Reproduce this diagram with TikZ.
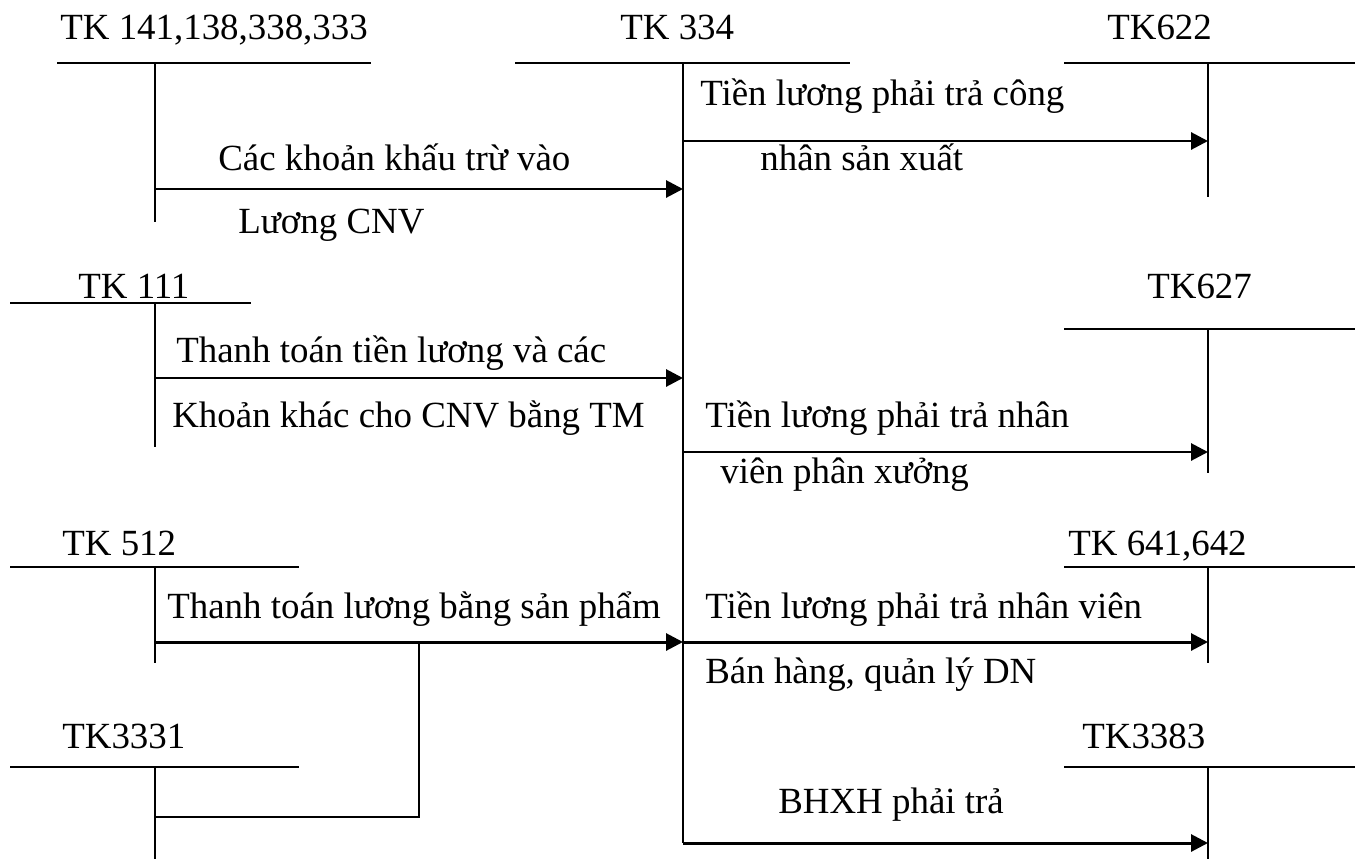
\documentclass[tikz,border=0pt]{standalone}
\usepackage{fontspec}
\setmainfont{Liberation Serif}
\usetikzlibrary{arrows.meta}

\begin{document}
\begin{tikzpicture}[x=0.02cm, y=-0.02cm, >={Triangle[length=0.34cm,width=0.34cm]},
                    acct/.style={line width=1.1pt},
                    flow/.style={->, line width=1.7pt},
                    txt/.style={inner sep=0pt, anchor=base west, font=\fontsize{21}{25}\selectfont}]
                      \useasboundingbox (0,0) rectangle (1363,859);

                      % account names
                      \node[txt] (l141) at (60,39) {TK 141,138,338,333};
                      \node[txt] (l334) at (620,39) {TK 334};
                      \node[txt] (l622) at (1107,39) {TK622};
                      \node[txt] (l111) at (78,298) {TK 111};
                      \node[txt] (l627) at (1147,298) {TK627};
                      \node[txt] (l512) at (62,555) {TK 512};
                      \node[txt] (l641) at (1068,555) {TK 641,642};
                      \node[txt] (l3331) at (62,748) {TK3331};
                      \node[txt] (l3383) at (1082,748) {TK3383};

                      % T accounts
                      \draw[acct] (57,63) -- (371,63) (155,63) -- (155,222);
                      \draw[acct] (515,63) -- (850,63) (683,63) -- (683,843);
                      \draw[acct] (1064,63) -- (1355,63) (1208,63) -- (1208,197);
                      \draw[acct] (10,303) -- (251,303) (155,303) -- (155,447);
                      \draw[acct] (1064,329) -- (1355,329) (1208,329) -- (1208,473);
                      \draw[acct] (10,567) -- (299,567) (155,567) -- (155,663);
                      \draw[acct] (1064,567) -- (1355,567) (1208,567) -- (1208,663);
                      \draw[acct] (10,767) -- (299,767) (155,767) -- (155,859);
                      \draw[acct] (1064,767) -- (1355,767) (1208,767) -- (1208,859);

                      % arrow ends
                      \coordinate (k141) at (155,189);
                      \coordinate (n334a) at (683,189);
                      \coordinate (c334a) at (683,141);
                      \coordinate (n622) at (1208,141);
                      \coordinate (k111) at (155,378);
                      \coordinate (n334b) at (683,378);
                      \coordinate (c334b) at (683,452);
                      \coordinate (n627) at (1208,452);
                      \coordinate (k512) at (155,642);
                      \coordinate (j512) at (419,642);
                      \coordinate (n334c) at (683,642);
                      \coordinate (n641) at (1208,642);
                      \coordinate (k3331) at (155,817);
                      \coordinate (j3331) at (419,817);
                      \coordinate (c334d) at (683,843);
                      \coordinate (n3383) at (1208,843);

                      \draw[flow] (k141) -- (n334a);
                      \draw[flow] (c334a) -- (n622);
                      \draw[flow] (k111) -- (n334b);
                      \draw[flow] (c334b) -- (n627);
                      \draw[flow] (k512) -- (n334c);
                      \draw[flow] (n334c) -- (n641);
                      \draw[line width=1.6pt] (k3331) -- (j3331) -- (j512);
                      \draw[flow] (c334d) -- (n3383);

                      % entries
                      \node[txt] (t1) at (218,170) {Các khoản khấu trừ vào};
                      \node[txt] (t2) at (238,233) {Lương CNV};
                      \node[txt] (t3) at (700,105) {Tiền lương phải trả công};
                      \node[txt] (t4) at (760,170) {nhân sản xuất};
                      \node[txt] (t5) at (176,362) {Thanh toán tiền lương và các};
                      \node[txt] (t6) at (172,427) {Khoản khác cho CNV bằng TM};
                      \node[txt] (t7) at (705,427) {Tiền lương phải trả nhân};
                      \node[txt] (t8) at (720,483) {viên phân xưởng};
                      \node[txt] (t9) at (167,618) {Thanh toán lương bằng sản phẩm};
                      \node[txt] (t10) at (705,618) {Tiền lương phải trả nhân viên};
                      \node[txt] (t11) at (705,683) {Bán hàng, quản lý DN};
                      \node[txt] (t12) at (778,813) {BHXH phải trả};

                    \end{tikzpicture}
\end{document}
